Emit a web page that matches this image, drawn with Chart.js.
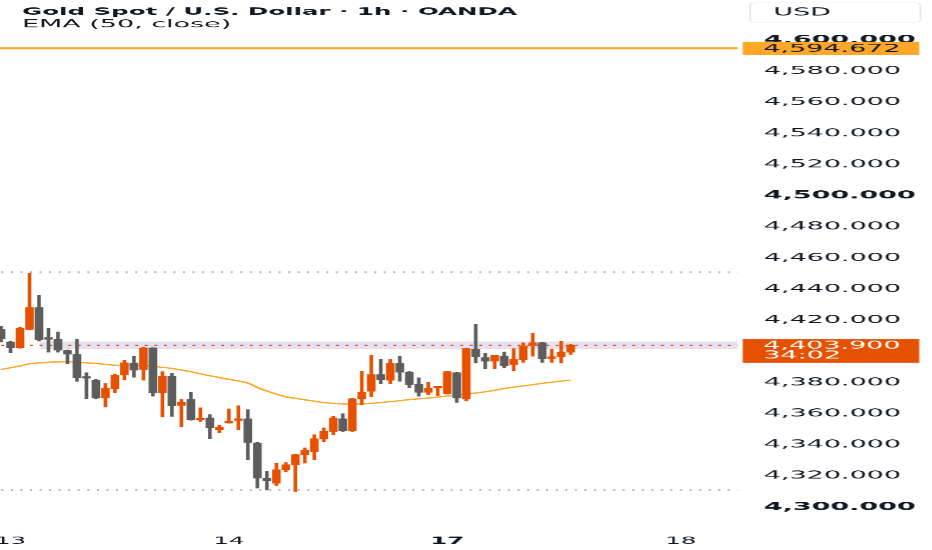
<!DOCTYPE html>
<html>
<head>
<meta charset="utf-8">
<script src="https://cdn.jsdelivr.net/npm/chart.js@4.4.1/dist/chart.umd.min.js"></script>
<style>
  html, body { margin: 0; padding: 0; background: #fff; width: 932px; height: 550px; overflow: hidden; }
  #marco { position: absolute; left: 0; top: 0; transform: scaleX(2.45); transform-origin: 0 0; }
</style>
</head>
<body>
<div id="marco"><canvas id="grafico-oro" width="381" height="550"></canvas></div>
<script>
  // el grafico original esta estirado en horizontal, se dibuja angosto y se estira con css
  const SX = 2.45;

  const titulo = 'Gold Spot / U.S. Dollar · 1h · OANDA';
  const leyendaEma = 'EMA (50, close)';
  const moneda = 'USD';

  const dias = ['13', '14', '17', '18'];
  const posDias = [1, 24, 47, 71.6];

  const aperturas = [4414, 4406, 4402.3, 4414.1, 4428.1, 4408.5, 4407.7, 4400.4, 4398, 4383.3,
    4381.3, 4370.1, 4376.1, 4385.1, 4392.4, 4388.3, 4402.1, 4373.3, 4384, 4365.3,
    4369, 4356.1, 4357.2, 4349.7, 4354, 4355.6, 4356.6, 4341.1, 4318.3, 4315.3,
    4323.9, 4327.1, 4333.6, 4335.6, 4343.7, 4348.5, 4356.6, 4349.2, 4369.5, 4374.4,
    4385.1, 4381.5, 4392.2, 4386.6, 4378.7, 4373.7, 4376.5, 4372.9, 4386.2, 4369.5,
    4401.2, 4395.9, 4393.7, 4396.9, 4391.6, 4394.8, 4403.8, 4405.5, 4395.5, 4396.5,
    4399.5];
  const maximos = [4416, 4406.5, 4415.5, 4450.2, 4436, 4414.6, 4412.4, 4400.8, 4407.7, 4386.2,
    4382, 4379.3, 4385.5, 4394.1, 4396.9, 4402.5, 4402.3, 4386.9, 4385.8, 4369,
    4373.7, 4363.7, 4359.3, 4352.4, 4363, 4365, 4362.5, 4341.5, 4322.9, 4328.2,
    4328.5, 4334, 4337.9, 4346.4, 4350.8, 4358.3, 4359.9, 4370, 4387.3, 4397.4,
    4394.8, 4394.8, 4396.9, 4387, 4383, 4380.1, 4377, 4387.3, 4386.6, 4402,
    4417.3, 4398.6, 4397.4, 4399.5, 4401.7, 4405.5, 4411.5, 4405.8, 4401.2, 4406.4,
    4404.4];
  const minimos = [4406, 4399, 4402, 4413.7, 4406.6, 4399.5, 4399.5, 4392.2, 4380.8, 4369.5,
    4369.5, 4364.3, 4373.3, 4381.9, 4383.4, 4381.5, 4371.2, 4357.9, 4358.2, 4351.8,
    4355.8, 4355, 4343.9, 4347.6, 4353.8, 4349.7, 4330.3, 4312.1, 4311, 4313.8,
    4322.6, 4310, 4328.2, 4330.3, 4341.9, 4346.4, 4348.5, 4348.5, 4365.8, 4370.7,
    4379.3, 4379.3, 4380.8, 4376.6, 4371.2, 4372.2, 4371.6, 4372.5, 4367.3, 4368.2,
    4392.6, 4388.8, 4388.8, 4389.4, 4387.7, 4393, 4396.9, 4393, 4393, 4392.6,
    4398];
  const cierres = [4408, 4402.3, 4414.8, 4428.1, 4407.7, 4407.8, 4400.8, 4398.2, 4383, 4382.8,
    4370.1, 4376.1, 4384.7, 4392.6, 4387.9, 4402.1, 4373.3, 4384, 4365.1, 4367.3,
    4356.1, 4357, 4350.8, 4351.2, 4355, 4356.6, 4341.5, 4318.6, 4316.9, 4323.9,
    4327.1, 4333.6, 4336.4, 4343.8, 4348.5, 4357.2, 4349.2, 4369.5, 4373.7, 4385.1,
    4381.9, 4392.2, 4386.6, 4378.7, 4373.7, 4376.3, 4376.9, 4386.9, 4370.1, 4401.7,
    4396.5, 4393.7, 4397.4, 4390.9, 4394.8, 4403.4, 4405.5, 4395.2, 4396.2, 4399.5,
    4403.9];
  const ema50 = [4388.3, 4389.5, 4390.6, 4392.0, 4392.6, 4393.0, 4393.2, 4393.3, 4393.0, 4392.6,
    4392.2, 4391.6, 4391.1, 4390.9, 4390.9, 4390.8, 4390.3, 4389.7, 4389.0, 4388.0,
    4386.9, 4385.6, 4384.3, 4383.2, 4382.0, 4381.0, 4379.6, 4376.8, 4374.5, 4372.5,
    4370.8, 4369.8, 4368.9, 4368.0, 4367.1, 4366.6, 4366.2, 4366.1, 4366.2, 4366.6,
    4367.1, 4367.7, 4368.3, 4369.0, 4369.5, 4370.0, 4370.6, 4371.3, 4371.9, 4372.5,
    4373.2, 4374.0, 4375.0, 4376.1, 4377.0, 4377.8, 4378.6, 4379.4, 4380.2, 4380.9,
    4381.5];

  const precioActual = 4403.9;
  const tiempoRestante = '34:02';
  const lineaNaranja = 4594.672;
  const nivelesPunteados = [4450.8, 4311.0];
  const zonaPrecio = [4401.6, 4406.3];
  const zonaInicio = 4.1;

  const colorSube = '#e65100';
  const colorBaja = '#5d5d5d';

  function fmt(v) {
    return v.toLocaleString('en-US', { minimumFractionDigits: 3, maximumFractionDigits: 3 });
  }

  colores = [];
  for (i = 0; i < aperturas.length; i++) {
    colores.push(cierres[i] >= aperturas[i] ? colorSube : colorBaja);
  }

  function lineaHorizontal(valor, color, ancho, guiones) {
    return {
      type: 'line',
      data: [{ x: -5, y: valor }, { x: 90, y: valor }],
      borderColor: color,
      borderWidth: ancho,
      borderDash: guiones,
      pointRadius: 0
    };
  }

  const pluginDibujos = {
    id: 'dibujos',
    beforeDatasetsDraw(chart) {
      const { ctx, chartArea, scales } = chart;
      const x0 = scales.x.getPixelForValue(zonaInicio);
      const yA = scales.y.getPixelForValue(zonaPrecio[1]);
      const yB = scales.y.getPixelForValue(zonaPrecio[0]);
      ctx.save();
      ctx.fillStyle = '#e6e0f1';
      ctx.fillRect(x0, yA, chartArea.right - x0, yB - yA);
      ctx.restore();
    },
    afterDraw(chart) {
      const { ctx, chartArea, scales } = chart;
      ctx.save();
      ctx.textAlign = 'left';
      ctx.textBaseline = 'middle';
      // titulo y leyenda
      ctx.fillStyle = '#131722';
      ctx.font = 'bold 10px "DejaVu Sans"';
      ctx.fillText(titulo, 9, 12);
      ctx.font = '11px "DejaVu Sans"';
      ctx.fillText(leyendaEma, 9, 24.5);
      // caja moneda
      ctx.fillStyle = '#ffffff';
      ctx.strokeStyle = '#e0e3eb';
      ctx.lineWidth = 0.6;
      ctx.beginPath();
      ctx.roundRect(306, 3, 69.5, 19, 2);
      ctx.fill();
      ctx.stroke();
      ctx.fillStyle = '#131722';
      ctx.fillText(moneda, 315.5, 12.5);
      // etiquetas de precio en el eje
      const xCaja = chartArea.right + 2;
      let yp = scales.y.getPixelForValue(lineaNaranja);
      ctx.fillStyle = '#ffa726';
      ctx.fillRect(xCaja, yp - 6.5, 72, 13);
      ctx.fillStyle = '#131722';
      ctx.fillText(fmt(lineaNaranja), xCaja + 8.4, yp + 0.5);
      yp = scales.y.getPixelForValue(precioActual);
      ctx.fillStyle = colorSube;
      ctx.fillRect(xCaja, yp - 6, 72, 23.5);
      ctx.fillStyle = '#ffffff';
      ctx.fillText(fmt(precioActual), xCaja + 8.4, yp + 0.5);
      ctx.fillText(tiempoRestante, xCaja + 8.4, yp + 10.5);
      ctx.restore();
    }
  };

  new Chart(document.getElementById('grafico-oro'), {
    type: 'bar',
    data: {
      datasets: [
        {
          label: 'cuerpos',
          data: aperturas.map((a, i) => ({ x: i, y: [a, cierres[i]] })),
          backgroundColor: colores,
          barThickness: 7 / SX,
          minBarLength: 1.5,
          grouped: false,
          borderWidth: 0
        },
        {
          label: 'mechas',
          data: minimos.map((m, i) => ({ x: i, y: [m, maximos[i]] })),
          backgroundColor: colores,
          barThickness: 2 / SX,
          grouped: false,
          borderWidth: 0
        },
        {
          type: 'line',
          label: leyendaEma,
          data: ema50.map((v, i) => ({ x: i, y: v })),
          borderColor: '#ffa726',
          borderWidth: 1.3,
          pointRadius: 0,
          tension: 0.4
        },
        lineaHorizontal(precioActual, colorSube, 1.3, [1.2, 2.7]),
        lineaHorizontal(lineaNaranja, '#ffa726', 2, []),
        lineaHorizontal(nivelesPunteados[0], '#b8b0dc', 2, [0.8, 3.1]),
        lineaHorizontal(nivelesPunteados[1], '#b8b0dc', 2, [0.8, 3.1])
      ]
    },
    options: {
      responsive: false,
      devicePixelRatio: SX,
      animation: false,
      events: [],
      layout: { padding: 0, autoPadding: false },
      scales: {
        x: {
          type: 'linear',
          offset: false,
          min: -0.106,
          max: 77.6,
          grid: { display: false, drawTicks: false, offset: false },
          border: { display: false },
          afterBuildTicks: s => { s.ticks = posDias.map(v => ({ value: v })); },
          ticks: {
            autoSkip: false,
            maxRotation: 0,
            padding: 10,
            color: '#131722',
            font: c => ({ family: 'DejaVu Sans', size: 10, weight: c.index === 2 ? 'bold' : 'normal' }),
            callback: (v, i) => dias[i]
          },
          afterFit: s => { s.height = 25; s.paddingLeft = 0; s.paddingRight = 0; }
        },
        y: {
          position: 'right',
          min: 4288.3,
          max: 4625.7,
          grid: { display: false, drawTicks: false },
          border: { display: false },
          afterBuildTicks: s => { s.ticks = s.ticks.filter(t => t.value <= 4600); },
          ticks: {
            stepSize: 20,
            includeBounds: false,
            padding: 10.6,
            color: '#131722',
            font: c => ({ family: 'DejaVu Sans', size: 11, weight: c.tick && c.tick.value % 100 === 0 ? 'bold' : 'normal' }),
            callback: v => fmt(v)
          },
          afterFit: s => { s.width = 80; s.paddingTop = 0; s.paddingBottom = 0; }
        }
      },
      plugins: {
        legend: { display: false },
        tooltip: { enabled: false }
      }
    },
    plugins: [pluginDibujos]
  });
</script>
</body>
</html>
